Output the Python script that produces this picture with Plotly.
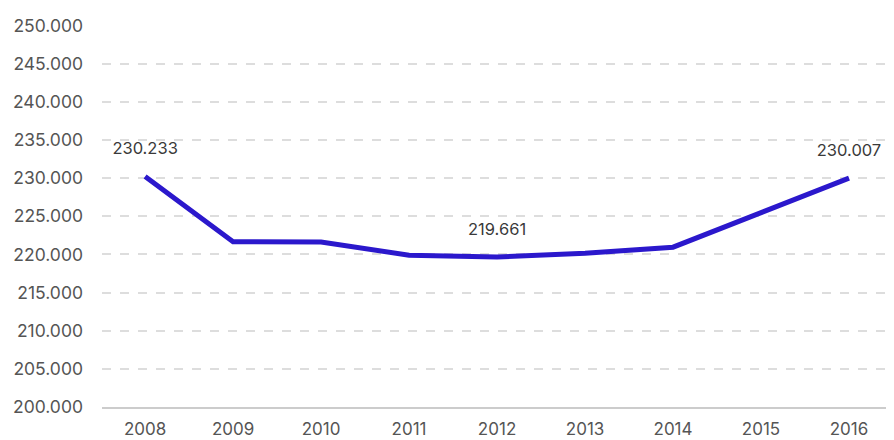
import plotly.graph_objects as go

years = ["2008", "2009", "2010", "2011", "2012", "2013", "2014", "2015", "2016"]
values = [230.233, 221.66, 221.64, 219.9, 219.661, 220.15, 220.95, 225.5, 230.007]
label_years = ["2008", "2012", "2016"]
label_values = [230.233, 219.661, 230.007]
y_ticks = [200, 205, 210, 215, 220, 225, 230, 235, 240, 245, 250]
y_tick_text = ["200.000", "205.000", "210.000", "215.000", "220.000", "225.000",
               "230.000", "235.000", "240.000", "245.000", "250.000"]

FONT = "Inter, Roboto, sans-serif"

fig = go.Figure()
fig.add_trace(go.Scatter(
    x=years, y=values, mode="lines",
    line=dict(color="#2b18cc", width=5),
    hoverinfo="skip", showlegend=False,
))
fig.add_trace(go.Scatter(
    x=label_years, y=label_values, mode="markers+text",
    text=[f"{v:.3f}" for v in label_values], textposition="top center",
    marker=dict(size=27, color="rgba(0,0,0,0)"),
    textfont=dict(family=FONT, size=16.5, color="#3a3a3a"),
    hoverinfo="skip", showlegend=False, cliponaxis=False,
))

fig.update_layout(
    width=886, height=432,
    margin=dict(l=94, r=1, t=17, b=33),
    paper_bgcolor="white", plot_bgcolor="white",
    font=dict(family=FONT, size=17.5, color="#555"),
    xaxis=dict(
        type="category", range=[-0.49, 8.5], automargin=False,
        showgrid=False, showline=True, linecolor="#cccccc", linewidth=1.5,
        ticks="", tickfont=dict(size=17, color="#555"), ticklabelstandoff=6,
    ),
    yaxis=dict(
        range=[200, 250.08], tickvals=y_ticks, ticktext=y_tick_text,
        automargin=False,
        showgrid=True, gridcolor="#dddddd", griddash="dash", gridwidth=1.5,
        zeroline=False, showline=False, ticks="",
        tickfont=dict(size=17.5, color="#555"), ticklabelstandoff=18,
    ),
)

fig.write_html("out.html")
